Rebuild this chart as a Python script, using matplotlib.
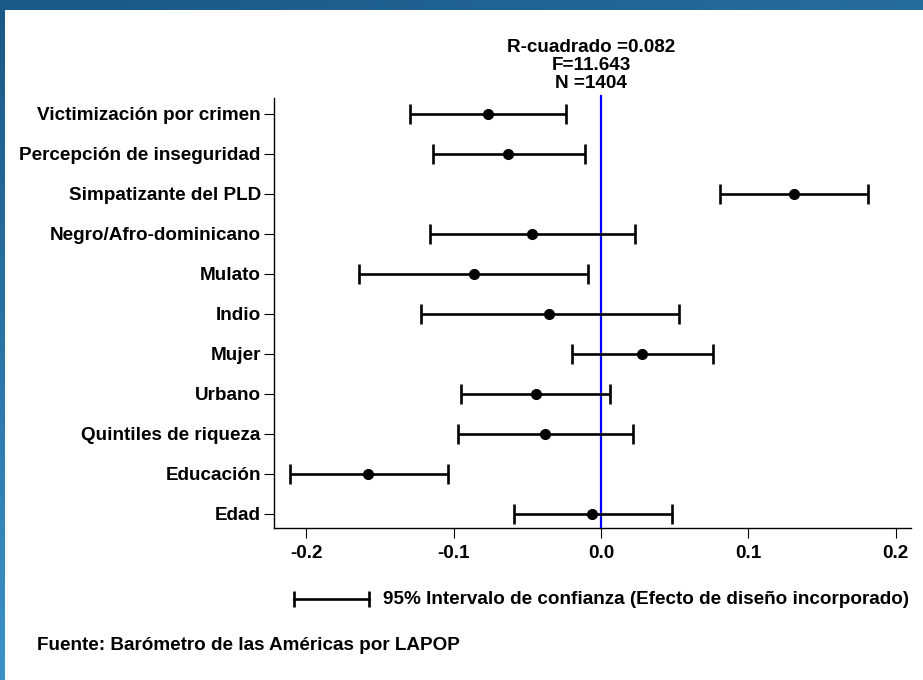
import numpy as np
import matplotlib
matplotlib.use('Agg')
import matplotlib.pyplot as plt
from matplotlib.lines import Line2D
from matplotlib.colors import LinearSegmentedColormap

plt.rcParams['font.family'] = ['Liberation Sans', 'DejaVu Sans']
plt.rcParams['font.weight'] = 'bold'

# variables, top to bottom
labels = ['Victimización por crimen', 'Percepción de inseguridad',
          'Simpatizante del PLD', 'Negro/Afro-dominicano', 'Mulato', 'Indio',
          'Mujer', 'Urbano', 'Quintiles de riqueza', 'Educación', 'Edad']
coef = [-0.077, -0.063, 0.131, -0.047, -0.086, -0.035,
        0.028, -0.044, -0.038, -0.158, -0.006]
ci_low = [-0.130, -0.114, 0.081, -0.116, -0.164, -0.122,
          -0.020, -0.095, -0.097, -0.211, -0.059]
ci_high = [-0.024, -0.011, 0.181, 0.023, -0.009, 0.053,
           0.076, 0.006, 0.022, -0.104, 0.048]
xticks = [-0.2, -0.1, 0.0, 0.1, 0.2]
stats = ['R-cuadrado =0.082', 'F=11.643', 'N =1404']

W, H = 923, 680
FS = 13.6
fig = plt.figure(figsize=(W / 100, H / 100), dpi=100)

# blue frame (top and left bands)
blue = LinearSegmentedColormap.from_list('b', ['#1a5886', '#2b74a6', '#3c92c8'])
top = fig.add_axes([0, 1 - 10 / H, 1, 10 / H])
top.imshow(np.linspace(0.0, 0.35, 100)[None, :], aspect='auto', cmap=blue, vmin=0, vmax=1)
top.axis('off')
left = fig.add_axes([0, 0, 5 / W, 1])
left.imshow(np.linspace(0.0, 1.0, 100)[:, None], aspect='auto', cmap=blue, vmin=0, vmax=1)
left.axis('off')

ax = fig.add_axes([274 / W, 1 - 528 / H, (911 - 274) / W, (528 - 98) / H])
c = np.array(coef)
lo = np.array(ci_low)
hi = np.array(ci_high)
y = np.arange(len(labels))[::-1]

ax.axvline(0, color='#0000ff', lw=1.6, zorder=1, clip_on=False, ymax=1.005)
ax.errorbar(c, y, xerr=[c - lo, hi - c], fmt='o', color='black', ms=7,
            elinewidth=1.9, capsize=7, capthick=1.9, zorder=3)

ax.set_xlim(-0.222, 0.2105)
ax.set_ylim(-0.35, 10.4)
ax.set_xticks(xticks)
ax.set_xticklabels(['%.1f' % t for t in xticks])
ax.set_yticks(y)
ax.set_yticklabels(labels)
for s in ['top', 'right']:
    ax.spines[s].set_visible(False)
for s in ['left', 'bottom']:
    ax.spines[s].set_linewidth(1.0)
ax.tick_params(axis='x', length=7, pad=5, labelsize=FS)
ax.tick_params(axis='y', length=7, pad=2.5, labelsize=FS)

# fit statistics above the plot
for i, s in enumerate(stats):
    fig.text(591 / W, 1 - (48 + 17.5 * i) / H, s, ha='center', va='center', fontsize=FS)

# CI key
ky = 1 - 599 / H
fig.add_artist(Line2D([294 / W, 369 / W], [ky, ky], color='black', lw=1.9,
                      marker='|', ms=12, mew=1.9))
fig.text(383 / W, ky, '95% Intervalo de confianza (Efecto de diseño incorporado)',
         ha='left', va='center', fontsize=FS)

fig.text(37 / W, 1 - 645 / H, 'Fuente: Barómetro de las Américas por LAPOP',
         ha='left', va='center', fontsize=13.6)

fig.savefig('out.png', dpi=100)
